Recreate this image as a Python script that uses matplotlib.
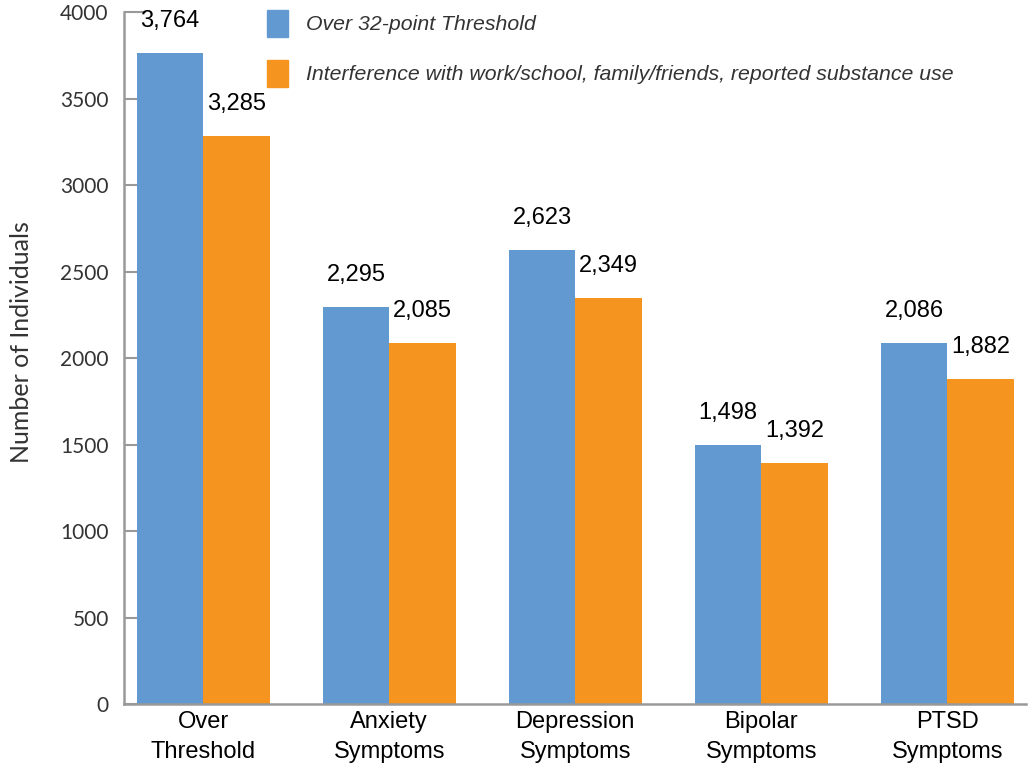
import numpy as np
import matplotlib.pyplot as plt
from matplotlib.patches import Patch

categories = ["Over\nThreshold", "Anxiety\nSymptoms", "Depression\nSymptoms",
              "Bipolar\nSymptoms", "PTSD\nSymptoms"]
over_threshold = [3764, 2295, 2623, 1498, 2086]
interference = [3285, 2085, 2349, 1392, 1882]
series_names = ["Over 32-point Threshold",
                "Interference with work/school, family/friends, reported substance use"]
yticks = [0, 500, 1000, 1500, 2000, 2500, 3000, 3500, 4000]

blue = "#6399d1"
orange = "#f59520"
gray = "#999999"

plt.rcParams['font.family'] = ['Liberation Sans', 'DejaVu Sans']

fig = plt.figure(figsize=(10.29, 7.67), dpi=100)
ax = fig.add_axes([0.1205, 0.0821, 0.877, 0.902])

x = np.arange(len(categories))
w = 0.357
b1 = ax.bar(x - w / 2, over_threshold, w, color=blue)
b2 = ax.bar(x + w / 2, interference, w, color=orange)

for bars, vals in ((b1, over_threshold), (b2, interference)):
    for rect, v in zip(bars, vals):
        ax.annotate(f"{v:,}", (rect.get_x() + rect.get_width() / 2, v),
                    xytext=(0, 23), textcoords="offset points",
                    ha="center", va="center", fontsize=17, color="black")

ax.set_xlim(-0.425, 4.425)
ax.set_ylim(0, 4000)
ax.set_xticks(x)
ax.set_xticklabels(categories, fontsize=17, linespacing=1.45)
ax.set_yticks(yticks)
ax.set_yticklabels([str(t) for t in yticks], family=['Lato', 'DejaVu Sans'],
                   fontsize=15, color="#333333")
ax.tick_params(axis="x", length=0, pad=5)
ax.tick_params(axis="y", direction="in", length=9, width=1.5, color=gray, pad=11)
# top tick is drawn a bit longer, like a small cap on the axis
ax.yaxis.get_major_ticks()[-1].tick1line.set_markersize(16)
ax.set_ylabel("Number of Individuals", family=['Lato', 'DejaVu Sans'],
              fontsize=18, color="#333333")
ax.yaxis.set_label_coords(-0.101, 0.523)

for s in ("top", "right"):
    ax.spines[s].set_visible(False)
for s in ("left", "bottom"):
    ax.spines[s].set_color(gray)
    ax.spines[s].set_linewidth(1.8)

handles = [Patch(color=blue), Patch(color=orange)]
leg = fig.legend(handles, series_names, loc="upper left",
                 bbox_to_anchor=(0.259, 0.987), frameon=False,
                 prop={"style": "italic", "size": 15.3},
                 handlelength=1.0, handleheight=1.58, handletextpad=0.85,
                 labelspacing=1.08, borderaxespad=0, borderpad=0)
for t in leg.get_texts():
    t.set_color("#333333")

fig.savefig("out.png", dpi=100)
